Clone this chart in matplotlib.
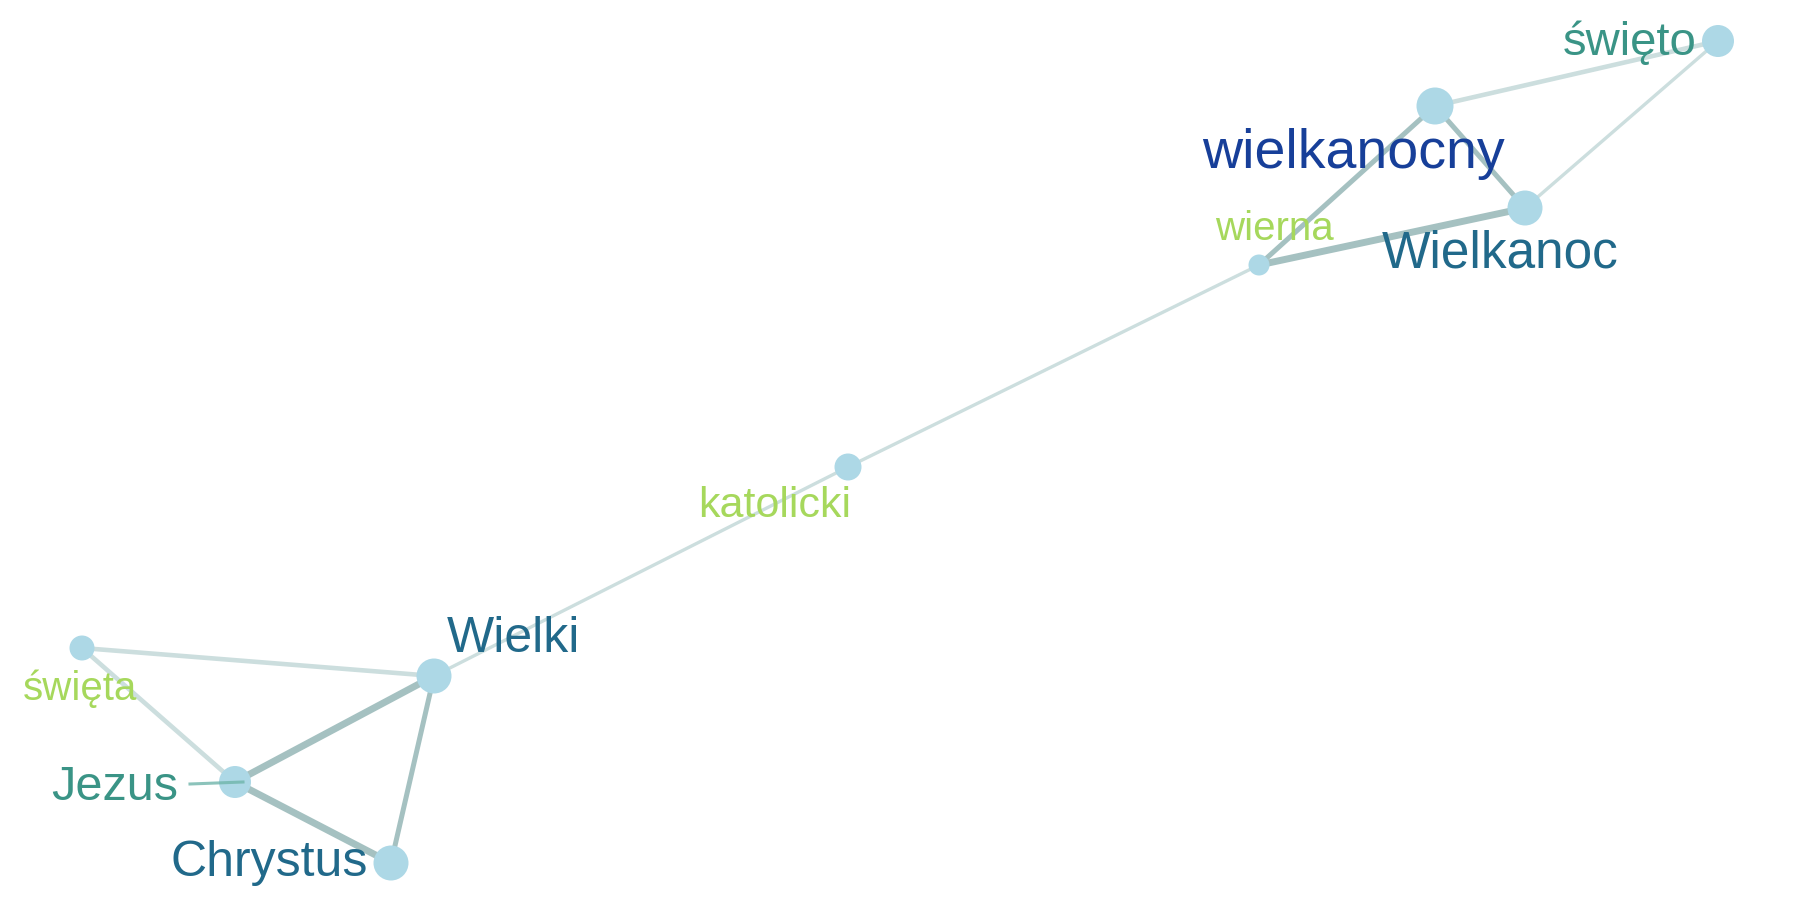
import matplotlib.pyplot as plt

plt.rcParams['font.family'] = ['Liberation Sans', 'DejaVu Sans']

# node layout (pixel space of the 1800x900 canvas)
nodes = ['święto', 'wielkanocny', 'Wielkanoc', 'wierna', 'katolicki',
         'Wielki', 'święta', 'Jezus', 'Chrystus']
node_x = [1718, 1435, 1525, 1259, 848, 434, 82, 235, 391]
node_y = [41, 106, 208, 265, 467, 676, 648, 782, 863]
node_size = [32, 37, 35, 21, 27, 35, 25, 32, 35]

edges = [('święto', 'wielkanocny', 2), ('święto', 'Wielkanoc', 1),
         ('wielkanocny', 'Wielkanoc', 3), ('wielkanocny', 'wierna', 3),
         ('Wielkanoc', 'wierna', 4), ('wierna', 'katolicki', 1),
         ('katolicki', 'Wielki', 1), ('Wielki', 'święta', 2),
         ('święta', 'Jezus', 2), ('Wielki', 'Jezus', 4),
         ('Jezus', 'Chrystus', 4), ('Wielki', 'Chrystus', 3)]

label_x = [1697, 1353, 1500, 1274, 775, 513, 80, 115, 269]
label_y = [43, 154, 254, 229, 506, 639, 689, 788, 863]
label_ha = ['right', 'center', 'center', 'center', 'center', 'center', 'center', 'center', 'center']
label_pt = [34, 40, 37, 29, 31, 36, 29, 35, 36]
label_color = ['#3a9486', '#173f99', '#21698a', '#a6d85c', '#a6d85c',
               '#21698a', '#a6d85c', '#3a9486', '#21698a']

fig = plt.figure(figsize=(18, 9), dpi=100)
ax = fig.add_axes([0, 0, 1, 1])
ax.set_xlim(0, 1800)
ax.set_ylim(900, 0)
ax.axis('off')

pos = {n: (x, y) for n, x, y in zip(nodes, node_x, node_y)}
for a, b, w in edges:
    xa, ya = pos[a]
    xb, yb = pos[b]
    col = '#a5c1c1' if w >= 3 else '#ccdede'
    lw = {1: 2.4, 2: 3.3, 3: 3.6, 4: 5.0}[w]
    ax.plot([xa, xb], [ya, yb], color=col, lw=lw, solid_capstyle='butt', zorder=1)

# pointer from the Jezus label to its node
ax.plot([190, pos['Jezus'][0] + 8], [784, pos['Jezus'][1]], color='#6fb5aa', lw=2.2,
        alpha=0.8, zorder=3)

ax.scatter(node_x, node_y, s=[(d * 0.72) ** 2 for d in node_size],
           color='#add8e6', edgecolors='none', zorder=2)

for name, x, y, ha, pt, c in zip(nodes, label_x, label_y, label_ha, label_pt, label_color):
    ax.text(x, y, name, ha=ha, va='center', fontsize=pt, color=c, zorder=4)

fig.savefig('out.png', dpi=100)
